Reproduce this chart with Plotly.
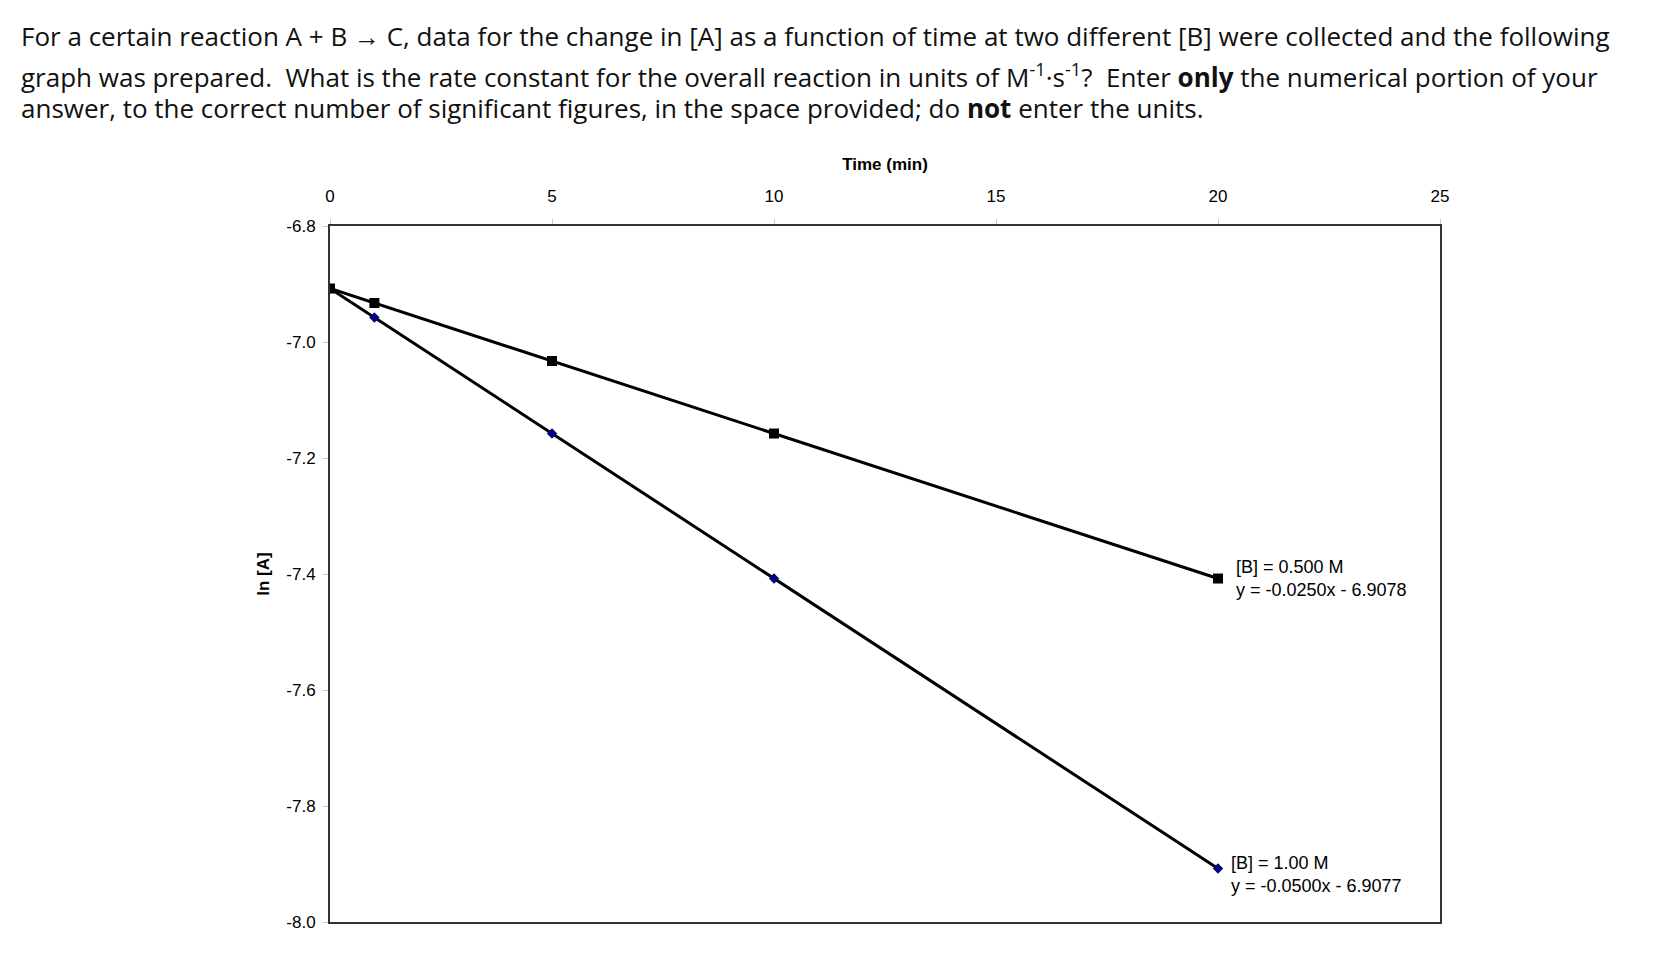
import plotly.graph_objects as go

# data
time_min = [0, 1, 5, 10, 20]
ln_a_half = [-6.9078, -6.9328, -7.0328, -7.1578, -7.4078]   # [B] = 0.500 M
ln_a_one = [-6.9077, -6.9577, -7.1577, -7.4077, -7.9077]    # [B] = 1.00 M
x_ticks = [0, 5, 10, 15, 20, 25]
y_ticks = [-6.8, -7.0, -7.2, -7.4, -7.6, -7.8, -8.0]

question_lines = [
    "For a certain reaction A + B \u2192 C, data for the change in [A] as a function of time at two different [B] were collected and the following",
    "graph was prepared.  What is the rate constant for the overall reaction in units of M<sup>-1</sup>\u00b7s<sup>-1</sup>?  Enter <b>only</b> the numerical portion of your",
    "answer, to the correct number of significant figures, in the space provided; do <b>not</b> enter the units.",
]
fit_labels = [
    ("[B] = 0.500 M", "y = -0.0250x - 6.9078"),
    ("[B] = 1.00 M", "y = -0.0500x - 6.9077"),
]

W, H = 1654, 962
L, R, T, B = 322, 1432, 218, 914


def px_to_paper(px, py):
    return (px - L) / (R - L), (B - py) / (B - T)


fig = go.Figure()
fig.add_trace(go.Scatter(
    x=time_min, y=ln_a_one, mode="lines+markers",
    line=dict(color="black", width=3),
    marker=dict(symbol="diamond", size=8, color="#000080"),
))
fig.add_trace(go.Scatter(
    x=time_min, y=ln_a_half, mode="lines+markers",
    line=dict(color="black", width=3),
    marker=dict(symbol="square", size=10, color="black"),
))

tick_font = dict(family="Liberation Sans, Arial", size=17, color="black")
label_font = dict(family="Liberation Sans, Arial", size=18, color="black")
axis_common = dict(
    showline=True, mirror=True, linecolor="#333333", linewidth=2,
    showgrid=False, zeroline=False,
    ticks="outside", ticklen=5, tickcolor="#c8c8c8", tickwidth=1,
    tickfont=tick_font,
)
fig.update_xaxes(
    side="top", range=[0, 25], tickvals=x_ticks,
    ticktext=[str(v) for v in x_ticks], ticklabelstandoff=10,
    title=dict(text="<b>Time (min)</b>", font=tick_font, standoff=12),
    **axis_common,
)
fig.update_yaxes(
    range=[-8.0, -6.8], tickvals=y_ticks,
    ticktext=["%.1f" % v for v in y_ticks], ticklabelstandoff=4,
    title=dict(text="<b>ln [A]</b>", font=tick_font, standoff=12),
    **axis_common,
)

text_font = dict(family="Open Sans, Noto Sans", size=26, color="#111111")
for py, line in zip([28, 68, 100], question_lines):
    x, y = px_to_paper(11, py)
    fig.add_annotation(xref="paper", yref="paper", x=x, y=y, text=line,
                       showarrow=False, xanchor="left", yanchor="middle",
                       font=text_font)

for (top, bottom), ln_vals, dx, shift in zip(fit_labels, [ln_a_half, ln_a_one],
                                             [0.36, 0.24], [0, -6]):
    fig.add_annotation(x=time_min[-1] + dx, y=ln_vals[-1],
                       text=top + "<br>" + bottom, showarrow=False,
                       xanchor="left", yanchor="middle", align="left",
                       font=label_font, yshift=shift)

fig.update_layout(
    width=W, height=H, showlegend=False,
    plot_bgcolor="white", paper_bgcolor="white",
    margin=dict(l=L, r=W - R, t=T, b=H - B),
)
fig.write_html("out.html")
